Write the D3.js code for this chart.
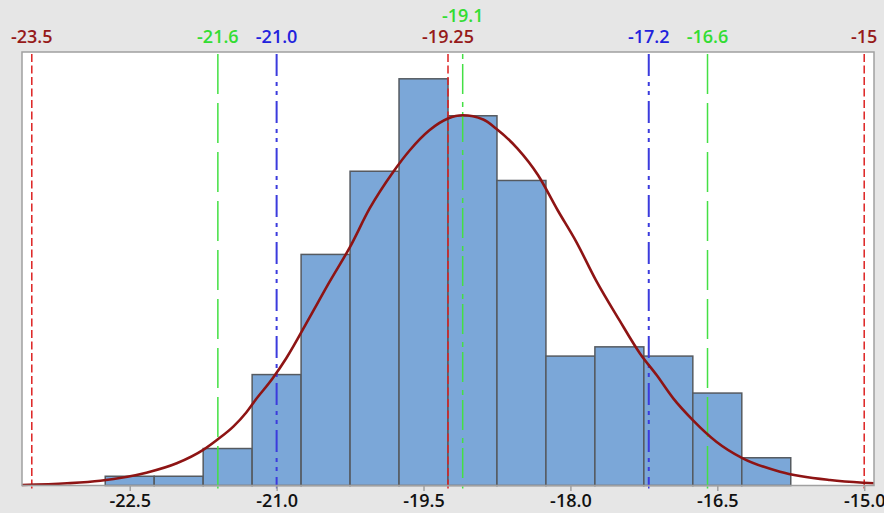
<!DOCTYPE html>
<html>
<head>
<meta charset="utf-8">
<script src="https://cdn.jsdelivr.net/npm/d3@7"></script>
<style>
  html, body { margin: 0; padding: 0; background: #e6e6e6; }
  svg { display: block; }
  text { font-family: "Open Sans", "Noto Sans", sans-serif; }
</style>
</head>
<body>
<svg id="chart" width="884" height="513"></svg>
<script>
// ---- data ----
const binEdges = [-22.75, -22.25, -21.75, -21.25, -20.75, -20.25, -19.75, -19.25, -18.75, -18.25, -17.75, -17.25, -16.75, -16.25, -15.75];
const binCounts = [1, 1, 4, 12, 25, 34, 44, 40, 33, 14, 15, 14, 10, 3];
const curveX = [-23.6, -23.14, -22.8, -22.33, -22.02, -21.75, -21.6, -21.44, -21.31, -21.22, -21.04, -20.9, -20.66, -20.46, -20.25, -20.05, -19.81, -19.64, -19.44, -19.25, -19.1, -18.89, -18.76, -18.54, -18.33, -18.13, -17.94, -17.74, -17.5, -17.29, -17.12, -16.95, -16.75, -16.51, -16.24, -15.86, -15.35, -15.01, -14.9];
const curveY = [0.05, 0.24, 0.52, 1.38, 2.4, 3.85, 5.0, 6.4, 7.9, 9.2, 11.6, 13.8, 18.25, 22.03, 25.82, 29.97, 33.92, 36.27, 38.43, 39.7, 40.05, 39.59, 38.62, 36.45, 33.57, 29.78, 26.36, 22.22, 17.89, 14.29, 11.95, 9.43, 7.08, 4.74, 2.94, 1.49, 0.59, 0.3, 0.24];
const refValues = [-23.5, -21.6, -21.0, -19.25, -19.1, -17.2, -16.6, -15];
const refLabels = ["-23.5", "-21.6", "-21.0", "-19.25", "-19.1", "-17.2", "-16.6", "-15"];
const refKinds = ["spec", "sigma2", "sigma15", "spec", "mean", "sigma15", "sigma2", "spec"];
const tickValues = [-22.5, -21.0, -19.5, -18.0, -16.5, -15.0];
const tickLabels = ["-22.5", "-21.0", "-19.5", "-18.0", "-16.5", "-15.0"];

// ---- styles ----
const styles = {
  spec:    { line: "#dd2222", label: "#961a1a", dash: "8,3.5", width: 1.5, labelY: 43 },
  sigma2:  { line: "#44e044", label: "#33dd33", dash: "40,9", width: 1.5, labelY: 43 },
  sigma15: { line: "#3b3bdd", label: "#2222dd", dash: "22,6,4,5,4,6", width: 2, labelY: 43 },
  mean:    { line: "#44e044", label: "#33dd33", dash: "5,5,30,8", width: 1.5, labelY: 22 }
};

const plot = { left: 22, right: 874, top: 52, bottom: 485.5 };
const fontSize = "18px";
const fontWeight = 600;

const svg = d3.select("#chart");

const x = d3.scaleLinear().domain([-23.6, -14.9]).range([plot.left, plot.right]);
const y = d3.scaleLinear().domain([0, 46.9]).range([plot.bottom, plot.top]);

// plot background
svg.append("rect")
  .attr("x", plot.left).attr("y", plot.top)
  .attr("width", plot.right - plot.left).attr("height", plot.bottom - plot.top)
  .attr("fill", "#ffffff");

// bars
const bins = binCounts.map((c, i) => ({ x0: binEdges[i], x1: binEdges[i + 1], c }));
svg.append("g").selectAll("rect").data(bins).join("rect")
  .attr("x", d => x(d.x0))
  .attr("y", d => y(d.c))
  .attr("width", d => x(d.x1) - x(d.x0))
  .attr("height", d => y(0) - y(d.c))
  .attr("fill", "#7ba7d8")
  .attr("stroke", "#555a60")
  .attr("stroke-width", 1.5);

// reference lines
const refs = refValues.map((v, i) => ({ v, label: refLabels[i], s: styles[refKinds[i]] }));
const refG = svg.append("g");
refG.selectAll("line").data(refs).join("line")
  .attr("x1", d => x(d.v)).attr("x2", d => x(d.v))
  .attr("y1", plot.top + 2).attr("y2", plot.bottom)
  .attr("stroke", d => d.s.line)
  .attr("stroke-width", d => d.s.width)
  .attr("stroke-dasharray", d => d.s.dash);

// fitted curve
const line = d3.line()
  .x(d => x(d[0])).y(d => y(d[1]))
  .curve(d3.curveMonotoneX);
svg.append("path")
  .datum(curveX.map((v, i) => [v, curveY[i]]))
  .attr("d", line)
  .attr("fill", "none")
  .attr("stroke", "#8e1414")
  .attr("stroke-width", 2.6);

// plot border
svg.append("rect")
  .attr("x", plot.left).attr("y", plot.top)
  .attr("width", plot.right - plot.left).attr("height", plot.bottom - plot.top)
  .attr("fill", "none")
  .attr("stroke", "#a0a0a0")
  .attr("stroke-width", 1.5);

// bottom axis
const axis = d3.axisBottom(x)
  .tickValues(tickValues)
  .tickFormat((d, i) => tickLabels[i])
  .tickSize(5)
  .tickSizeOuter(0)
  .tickPadding(3);
const axG = svg.append("g").attr("transform", `translate(0,${plot.bottom + 0.5})`).call(axis);
axG.select(".domain").remove();
axG.selectAll(".tick line").attr("stroke", "#a0a0a0").attr("stroke-width", 1.5);
axG.selectAll(".tick text")
  .attr("fill", "#111111")
  .style("font-size", fontSize)
  .style("font-weight", fontWeight)
  .style("font-family", "'Open Sans', 'Noto Sans', sans-serif");

// small coloured ticks for reference lines
refG.append("g").selectAll("line").data(refs).join("line")
  .attr("x1", d => x(d.v)).attr("x2", d => x(d.v))
  .attr("y1", plot.bottom + 1).attr("y2", plot.bottom + 3)
  .attr("stroke", d => d.s.line)
  .attr("stroke-width", 1.5);

// reference labels
svg.append("g").selectAll("text").data(refs).join("text")
  .attr("x", d => x(d.v))
  .attr("y", d => d.s.labelY)
  .attr("text-anchor", "middle")
  .attr("fill", d => d.s.label)
  .style("font-size", fontSize)
  .style("font-weight", fontWeight)
  .text(d => d.label);
</script>
</body>
</html>
